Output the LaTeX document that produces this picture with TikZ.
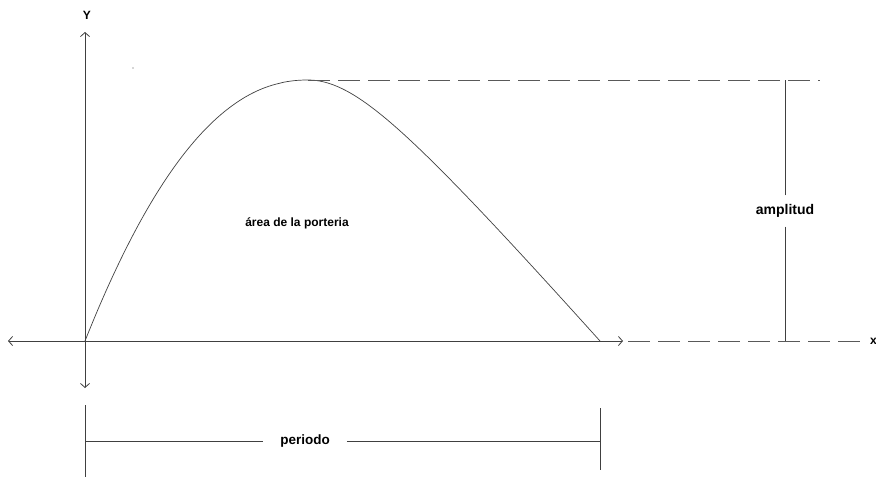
\documentclass[tikz,border=0pt]{standalone}
\usepackage{fontspec}
\setmainfont{Liberation Sans}
\usetikzlibrary{arrows.meta}

\begin{document}
\begin{tikzpicture}[x=1pt,y=-1pt,ax/.style={draw=black!75,line width=.8pt},tip/.style={{Straight Barb[length=4pt,width=9pt]}-{Straight Barb[length=4pt,width=9pt]}},guide/.style={draw=black!65,line width=.8pt,dash pattern=on 22pt off 8pt},lbl/.style={font=\bfseries\fontsize{12}{14}\selectfont,inner sep=2pt}]
\useasboundingbox (0,0) rectangle (876,479);

% ejes
\coordinate (o) at (85,341);
\coordinate (ytop) at (85,32);\coordinate (ybot) at (85,388);
\coordinate (xl) at (8,341);\coordinate (xr) at (623,341);
\draw[ax,tip](ybot)--(ytop);\draw[ax,tip](xl)--(xr);
\node[lbl] (ylab) at (87,15) {Y};
\fill[black!70] (133,68) circle (.6pt);

% curva
\coordinate (peak) at (308,80);\coordinate (fin) at (600,341);
\draw[ax,line width=.7pt] (o) -- plot[domain=0.01:0.99,samples=60,smooth] ({85+223*\x},{341-261*(1-pow(1-\x,2.15))})
  -- (peak) -- plot[domain=0:1,samples=60,smooth] ({308+292*\x},{80+261*(sqrt(\x*\x+0.0625)-0.25)/0.7808}) -- (fin);
\node[lbl] (area) at (297,223) {área de la porteria};

% guias
\coordinate (gtop) at (820,80);\coordinate (gx1) at (628,341);\coordinate (gx2) at (862,341);
\draw[guide](peak)--(gtop);\draw[guide](gx1)--(gx2);
\node[lbl,anchor=west] (xlab) at (868,341) {x};

% amplitud
\coordinate (atop) at (785,80);\coordinate (abot) at (785,341);
\node[lbl,font=\bfseries\fontsize{14}{16}\selectfont,inner sep=9pt] (amp) at (785,211) {amplitud};
\draw[ax](amp)--(atop);\draw[ax](amp)--(abot);

% periodo
\coordinate (pl1) at (85,405);\coordinate (pl2) at (85,477);
\coordinate (pr1) at (600,408);\coordinate (pr2) at (600,470);
\coordinate (pl) at (85,441);\coordinate (pr) at (600,441);
\node[lbl,font=\bfseries\fontsize{13.5}{16}\selectfont,inner xsep=17pt] (per) at (305,441) {periodo};
\draw[ax](pl1)--(pl2);\draw[ax](pr1)--(pr2);
\draw[ax](pl)--(per);\draw[ax](per)--(pr);
\end{tikzpicture}
\end{document}
